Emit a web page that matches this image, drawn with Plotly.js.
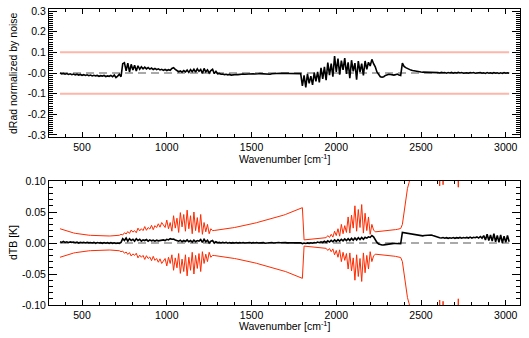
<!DOCTYPE html>
<html>
<head>
<meta charset="utf-8">
<script src="https://cdn.plot.ly/plotly-3.0.1.min.js"></script>
<style>html,body{margin:0;padding:0;background:#fff;}#chart{width:529px;height:338px;}</style>
</head>
<body>
<div id="chart"></div>
<script>
// Wavenumber sampling of the spectra (cm^-1)
const wnStart = 370;
const wnStep = 10;

// Top panel: radiance difference normalized by noise
const dRad = [
 0.000,-0.004,-0.002,-0.006,-0.003,-0.007,-0.004,-0.008,-0.005,-0.009,
 -0.006,-0.010,-0.007,-0.011,-0.008,-0.012,-0.009,-0.013,-0.010,-0.014,
 -0.011,-0.014,-0.012,-0.016,-0.013,-0.015,-0.012,-0.017,-0.014,-0.016,
 -0.012,-0.018,-0.010,-0.022,-0.015,-0.006,-0.018,0.045,0.050,0.010,
 0.048,0.005,0.042,0.015,0.038,0.010,0.035,0.018,0.030,0.020,
 0.028,0.020,0.026,0.019,0.024,0.017,0.022,0.016,0.020,0.015,
 0.018,0.013,0.017,0.012,0.016,0.013,0.022,0.026,0.018,0.010,
 0.006,0.010,0.004,0.012,0.005,0.014,0.003,0.016,0.006,0.018,
 0.004,0.020,0.008,0.017,-0.002,0.022,0.006,0.015,0.000,0.012,
 0.018,-0.003,0.008,-0.004,-0.002,-0.006,-0.005,-0.008,-0.006,-0.009,
 -0.007,-0.010,-0.008,-0.009,-0.007,-0.008,-0.006,-0.007,-0.005,-0.006,
 -0.005,-0.006,-0.004,-0.005,-0.004,-0.005,-0.003,-0.004,-0.003,-0.004,
 -0.003,-0.004,-0.005,-0.007,-0.006,-0.004,-0.003,-0.002,-0.002,-0.001,
 -0.001,-0.002,-0.001,-0.002,-0.001,-0.002,-0.002,-0.003,-0.002,-0.003,
 -0.003,-0.004,-0.003,-0.062,-0.012,-0.070,-0.004,-0.050,-0.015,-0.058,
 0.002,-0.040,0.005,-0.046,0.025,-0.028,0.030,-0.035,0.050,-0.010,
 0.045,-0.018,0.082,0.005,0.070,-0.008,0.060,0.015,0.072,-0.004,
 0.052,-0.025,0.062,0.008,0.048,-0.032,0.058,0.004,0.045,-0.012,
 0.058,0.018,0.052,0.034,0.066,0.045,0.030,0.005,-0.010,-0.018,
 -0.020,-0.018,-0.012,-0.008,-0.006,-0.007,-0.009,-0.010,-0.008,-0.005,
 -0.010,-0.012,0.048,0.032,0.026,0.021,0.017,0.014,0.012,0.010,
 0.009,0.007,0.006,0.005,0.004,0.004,0.003,0.004,0.002,0.003,
 0.001,0.003,0.001,0.002,0.000,0.003,0.001,0.002,-0.001,0.002,
 0.000,0.003,-0.001,0.002,0.000,0.003,0.000,0.002,-0.001,0.001,
 0.001,-0.001,0.002,0.000,0.002,-0.001,0.001,0.000,0.002,-0.001,
 0.001,-0.002,0.002,-0.001,0.001,-0.002,0.002,-0.001,0.001,-0.002,
 0.001,-0.002,0.002,-0.001,0.001,-0.001
];
const radLimits = [0.1, -0.1];

// Bottom panel: brightness temperature difference (K) and noise envelope (K)
const dTB = [
 0.0020,0.0010,0.0025,0.0010,0.0020,0.0005,0.0018,0.0010,0.0015,0.0005,
 0.0015,0.0000,0.0012,0.0003,0.0010,0.0000,0.0012,0.0002,0.0008,0.0000,
 0.0010,-0.0005,0.0008,0.0000,0.0005,-0.0005,0.0008,-0.0003,0.0005,-0.0005,
 0.0005,-0.0005,0.0003,-0.0008,0.0000,-0.0005,0.0010,0.0070,0.0040,0.0080,
 0.0030,0.0070,0.0040,0.0060,0.0030,0.0070,0.0040,0.0060,0.0030,0.0050,
 0.0040,0.0055,0.0030,0.0050,0.0035,0.0045,0.0030,0.0045,0.0035,0.0040,
 0.0040,0.0050,0.0040,0.0060,0.0050,0.0070,0.0060,0.0065,0.0050,0.0040,
 0.0030,0.0045,0.0020,0.0040,0.0025,0.0050,0.0020,0.0040,0.0015,0.0045,
 0.0020,0.0040,0.0030,0.0055,0.0010,0.0060,0.0020,0.0045,0.0000,0.0030,
 0.0040,0.0000,0.0020,0.0005,0.0010,0.0000,0.0012,0.0000,0.0010,-0.0003,
 0.0008,-0.0002,0.0006,0.0000,0.0008,-0.0002,0.0006,0.0000,0.0007,0.0000,
 0.0006,0.0000,0.0008,-0.0002,0.0006,0.0000,0.0007,0.0001,0.0005,0.0000,
 0.0006,-0.0004,0.0000,0.0008,0.0002,0.0007,0.0001,0.0006,0.0002,0.0008,
 0.0003,0.0007,0.0002,0.0006,0.0002,0.0005,0.0001,0.0006,0.0002,0.0005,
 0.0002,0.0005,0.0002,-0.0010,0.0000,-0.0008,0.0002,-0.0006,0.0003,-0.0004,
 0.0008,0.0000,0.0015,0.0005,0.0020,0.0008,0.0028,0.0010,0.0035,0.0015,
 0.0042,0.0020,0.0050,0.0025,0.0055,0.0030,0.0060,0.0035,0.0065,0.0040,
 0.0070,0.0040,0.0075,0.0045,0.0080,0.0050,0.0085,0.0055,0.0088,0.0060,
 0.0092,0.0078,0.0100,0.0090,0.0120,0.0100,0.0050,0.0010,-0.0015,-0.0028,
 -0.0032,-0.0030,-0.0025,-0.0018,-0.0012,-0.0008,-0.0006,-0.0006,-0.0007,-0.0008,
 -0.0010,-0.0012,0.0170,0.0165,0.0160,0.0155,0.0150,0.0145,0.0140,0.0135,
 0.0130,0.0125,0.0120,0.0115,0.0115,0.0120,0.0125,0.0130,0.0135,0.0130,
 0.0120,0.0110,0.0095,0.0090,0.0085,0.0080,0.0088,0.0078,0.0086,0.0076,
 0.0085,0.0078,0.0088,0.0076,0.0086,0.0080,0.0090,0.0078,0.0088,0.0082,
 0.0090,0.0080,0.0095,0.0078,0.0092,0.0085,0.0098,0.0080,0.0105,0.0078,
 0.0120,0.0050,0.0140,0.0040,0.0130,0.0030,0.0150,0.0020,0.0120,0.0010,
 0.0130,0.0000,0.0110,0.0010,0.0120,0.0020
];
const noiseTB = [
 0.0230,0.0220,0.0210,0.0200,0.0190,0.0182,0.0175,0.0168,0.0162,0.0156,
 0.0151,0.0146,0.0142,0.0138,0.0134,0.0131,0.0128,0.0126,0.0124,0.0122,
 0.0120,0.0118,0.0117,0.0116,0.0115,0.0114,0.0114,0.0113,0.0113,0.0113,
 0.0114,0.0115,0.0116,0.0118,0.0120,0.0125,0.0140,0.0130,0.0165,0.0145,
 0.0185,0.0155,0.0210,0.0175,0.0200,0.0165,0.0240,0.0195,0.0230,0.0200,
 0.0265,0.0205,0.0250,0.0225,0.0285,0.0215,0.0280,0.0250,0.0310,0.0255,
 0.0330,0.0290,0.0250,0.0370,0.0230,0.0330,0.0190,0.0440,0.0240,0.0400,
 0.0170,0.0490,0.0260,0.0460,0.0190,0.0530,0.0230,0.0440,0.0150,0.0500,
 0.0200,0.0410,0.0170,0.0460,0.0140,0.0330,0.0180,0.0300,0.0150,0.0230,
 0.0200,0.0202,0.0205,0.0208,0.0212,0.0216,0.0220,0.0225,0.0230,0.0235,
 0.0238,0.0242,0.0246,0.0250,0.0255,0.0260,0.0265,0.0270,0.0276,0.0282,
 0.0288,0.0294,0.0300,0.0307,0.0314,0.0321,0.0328,0.0335,0.0342,0.0349,
 0.0356,0.0363,0.0370,0.0378,0.0386,0.0394,0.0402,0.0410,0.0418,0.0426,
 0.0434,0.0442,0.0450,0.0460,0.0470,0.0480,0.0490,0.0500,0.0512,0.0524,
 0.0536,0.0548,0.0560,0.0570,0.0050,0.0052,0.0054,0.0056,0.0058,0.0060,
 0.0063,0.0066,0.0069,0.0072,0.0075,0.0078,0.0082,0.0086,0.0120,0.0090,
 0.0140,0.0095,0.0190,0.0120,0.0230,0.0110,0.0300,0.0150,0.0280,0.0170,
 0.0420,0.0160,0.0450,0.0240,0.0600,0.0190,0.0540,0.0250,0.0620,0.0160,
 0.0480,0.0200,0.0420,0.0140,0.0300,0.0210,0.0180,0.0182,0.0184,0.0186,
 0.0188,0.0190,0.0193,0.0196,0.0200,0.0204,0.0208,0.0212,0.0216,0.0220,
 0.0228,0.0234,0.0300,0.0500,0.0720,0.0880,0.0980,0.1100,0.1250,0.1400,
 0.16,0.18,0.20,0.22,0.24,0.26,0.28,0.30,0.32,0.34,
 0.36,0.38,0.40,0.30,0.092,0.25,0.094,0.30,0.40,0.42,
 0.44,0.46,0.40,0.30,0.20,0.090,0.20,0.40,0.48,0.50,
 0.50,0.50,0.50,0.50,0.50,0.50,0.50,0.50,0.50,0.50,
 0.50,0.50,0.50,0.50,0.50,0.50,0.50,0.50,0.50,0.50,
 0.50,0.50,0.50,0.50,0.50,0.50
];

// Tick labels and titles
const xTickVals = [500, 1000, 1500, 2000, 2500, 3000];
const yTopTickVals = [0.3, 0.2, 0.1, 0, -0.1, -0.2, -0.3];
const yTopTickText = ['0.3', '0.2', '0.1', '-0.0', '-0.1', '-0.2', '-0.3'];
const yBotTickVals = [0.1, 0.05, 0, -0.05, -0.1];
const yBotTickText = ['0.10', '0.05', '0.00', '-0.05', '-0.10'];
const xTitle = 'Wavenumber [cm<sup>-1</sup>]';
const yTopTitle = 'dRad normalized by noise';
const yBotTitle = 'dTB [K]';

const wn = dRad.map((_, i) => wnStart + i * wnStep);
const wnEnds = [wn[0], wn[wn.length - 1]];

const traces = [
  {x: [wnEnds[0], wnEnds[1], null, wnEnds[0], wnEnds[1]],
   y: [radLimits[0], radLimits[0], null, radLimits[1], radLimits[1]],
   xaxis: 'x', yaxis: 'y', mode: 'lines', line: {color: '#ffb6aa', width: 2}, hoverinfo: 'skip'},
  {x: wnEnds, y: [0, 0], xaxis: 'x', yaxis: 'y', mode: 'lines',
   line: {color: '#555555', width: 1, dash: '8px,5px'}, hoverinfo: 'skip'},
  {x: wn, y: dRad, xaxis: 'x', yaxis: 'y', mode: 'lines', line: {color: 'black', width: 1.6}},

  {x: wn, y: noiseTB, xaxis: 'x2', yaxis: 'y2', mode: 'lines', line: {color: '#ff2a00', width: 1}},
  {x: wn, y: noiseTB.map(v => -v), xaxis: 'x2', yaxis: 'y2', mode: 'lines', line: {color: '#ff2a00', width: 1}},
  {x: wnEnds, y: [0, 0], xaxis: 'x2', yaxis: 'y2', mode: 'lines',
   line: {color: '#aaaaaa', width: 2, dash: '8px,5px'}, hoverinfo: 'skip'},
  {x: wn, y: dTB, xaxis: 'x2', yaxis: 'y2', mode: 'lines', line: {color: 'black', width: 1.6}}
];

const fontFam = 'Liberation Sans, Arial, Helvetica, sans-serif';
const txtFont = {size: 10.5, family: fontFam, color: 'black'};
function xAxis(anchor) {
  return {
    anchor: anchor, domain: [0, 1], range: [305, 3084],
    tickmode: 'array', tickvals: xTickVals, ticktext: xTickVals.map(String),
    ticks: 'inside', ticklen: 5, tickwidth: 1, tickcolor: 'black',
    showline: true, linecolor: 'black', linewidth: 1, mirror: 'allticks',
    showgrid: false, zeroline: false,
    minor: {tickmode: 'linear', tick0: 0, dtick: 100, ticks: 'inside', ticklen: 3, tickcolor: 'black', showgrid: false},
    tickfont: txtFont
  };
}
function yAxis(anchor, domain, range, vals, text) {
  return {
    anchor: anchor, domain: domain, range: range,
    tickmode: 'array', tickvals: vals, ticktext: text,
    ticks: 'inside', ticklen: 8, tickwidth: 1, tickcolor: 'black',
    showline: true, linecolor: 'black', linewidth: 1, mirror: 'allticks',
    showgrid: false, zeroline: false,
    minor: {tickmode: 'linear', tick0: 0, dtick: 0.01, ticks: 'inside', ticklen: 4, tickcolor: 'black', showgrid: false},
    tickfont: txtFont
  };
}

const layout = {
  width: 529, height: 338,
  margin: {l: 49, r: 9, t: 9, b: 33},
  paper_bgcolor: 'white', plot_bgcolor: 'white',
  showlegend: false,
  font: {family: fontFam, size: 10.5, color: 'black'},
  xaxis: xAxis('y'),
  yaxis: yAxis('x', [0.5676, 1], [-0.31, 0.31], yTopTickVals, yTopTickText),
  xaxis2: xAxis('y2'),
  yaxis2: yAxis('x2', [0, 0.4189], [-0.1, 0.1], yBotTickVals, yBotTickText),
  annotations: [
    {text: xTitle, xref: 'paper', yref: 'paper', x: 0.5, y: 0.4966, xanchor: 'center', yanchor: 'middle', showarrow: false, font: txtFont},
    {text: xTitle, xref: 'paper', yref: 'paper', x: 0.5, y: -0.0676, xanchor: 'center', yanchor: 'middle', showarrow: false, font: txtFont},
    {text: yTopTitle, xref: 'paper', yref: 'paper', x: -0.0764, y: 0.7838, xanchor: 'center', yanchor: 'middle', textangle: -90, showarrow: false, font: txtFont},
    {text: yBotTitle, xref: 'paper', yref: 'paper', x: -0.0764, y: 0.2095, xanchor: 'center', yanchor: 'middle', textangle: -90, showarrow: false, font: txtFont}
  ]
};

Plotly.newPlot('chart', traces, layout, {staticPlot: true, displayModeBar: false});
</script>
</body>
</html>
